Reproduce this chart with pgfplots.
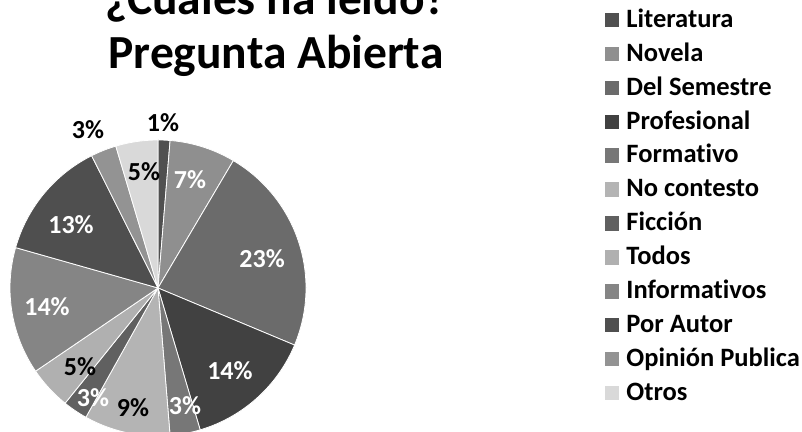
\documentclass[border=0pt]{standalone}
\usepackage{pgfplots}
\pgfplotsset{compat=1.18}
\usepackage{pgfplotstable}
\usepackage{fontspec}
\setmainfont{Carlito}[Ligatures=NoCommon]
\definecolor{c0}{HTML}{505050}
\definecolor{c1}{HTML}{8F8F8F}
\definecolor{c2}{HTML}{6B6B6B}
\definecolor{c3}{HTML}{414141}
\definecolor{c4}{HTML}{777777}
\definecolor{c5}{HTML}{B4B4B4}
\definecolor{c6}{HTML}{606060}
\definecolor{c7}{HTML}{B0B0B0}
\definecolor{c8}{HTML}{858585}
\definecolor{c9}{HTML}{4F4F4F}
\definecolor{c10}{HTML}{939393}
\definecolor{c11}{HTML}{D9D9D9}
\pgfplotstableread[col sep=comma]{
name,value
Literatura,1.3
Novela,7.2
Del Semestre,22.8
Profesional,14.1
Formativo,3.3
No contesto,9.4
Ficción,2.7
Todos,4.7
Informativos,13.9
Por Autor,13.2
Opinión Publica,2.8
Otros,4.6
}\piedata
\pgfplotstableread{
x y p
0.216 0.730 7
0.703 0.196 23
0.486 -0.561 14
0.182 -0.797 3
-0.439 -0.743 3
-0.750 -0.128 14
-0.588 0.426 13
}\whitelabels
\pgfplotstableread{
x y p
0.034 1.120 1
-0.095 0.784 5
-0.473 1.068 3
-0.169 -0.811 9
-0.527 -0.534 5
}\blacklabels
\pgfplotsset{slice/.style={draw=white, line width=0.8bp, line join=round, samples=80}}
\newcommand\lblfont{\fontsize{26bp}{26bp}\selectfont\bfseries}
\newcommand\legfont{\fontsize{26.5bp}{26.5bp}\selectfont\bfseries}
\begin{document}
\begin{tikzpicture}
\begin{axis}[
  at={(0,0)}, anchor=south west,
  x=148bp, y=148bp,
  xmin=-1.0676, xmax=4.3514, ymin=-0.973, ymax=1.946,
  hide axis, clip=false,
  legend cell align=left,
  legend image code/.code={\path[#1,draw=none] (0bp,0bp) rectangle (14.5bp,14.5bp);},
  legend style={at={(axis cs:3.020,1.883)}, anchor=north west, draw=none, fill=none,
    inner sep=0pt, outer sep=0pt, row sep=9.9bp, column sep=7bp,
    font=\legfont,
    nodes={inner sep=0pt, outer sep=0pt, text height=18bp, text depth=6bp, anchor=base west}},
]
\gdef\cum{0}
\pgfplotsforeachungrouped \i in {0,...,11}{%
  \pgfplotstablegetelem{\i}{value}\of\piedata
  \pgfmathsetmacro\a{\cum*3.6}%
  \pgfmathsetmacro\newcum{\cum+\pgfplotsretval}%
  \pgfmathsetmacro\b{\newcum*3.6}%
  \global\let\cum\newcum
  \pgfplotstablegetelem{\i}{name}\of\piedata
  \edef\doit{\noexpand\addplot[slice, fill=c\i, domain=\a:\b] ({sin(x)},{cos(x)}) -- (axis cs:0,0) -- cycle; \noexpand\addlegendentry{\pgfplotsretval}}%
  \doit
}
\addplot[forget plot, draw=none, no markers, point meta=explicit symbolic,
  nodes near coords={\pgfplotspointmeta\%},
  every node near coord/.append style={anchor=center, inner sep=0pt, text=white, font=\lblfont}]
  table[x=x, y=y, meta=p] {\whitelabels};
\addplot[forget plot, draw=none, no markers, point meta=explicit symbolic,
  nodes near coords={\pgfplotspointmeta\%},
  every node near coord/.append style={anchor=center, inner sep=0pt, text=black, font=\lblfont}]
  table[x=x, y=y, meta=p] {\blacklabels};
\node[anchor=base, font=\fontsize{47.5bp}{47.5bp}\selectfont\bfseries] at (axis cs:0.797,1.851) {¿Cuáles ha leído?};
\node[anchor=base, font=\fontsize{47.5bp}{47.5bp}\selectfont\bfseries] at (axis cs:0.797,1.486) {Pregunta Abierta};
\end{axis}
\pgfresetboundingbox
\useasboundingbox (0,0) rectangle (802bp,432bp);
\end{tikzpicture}
\end{document}
